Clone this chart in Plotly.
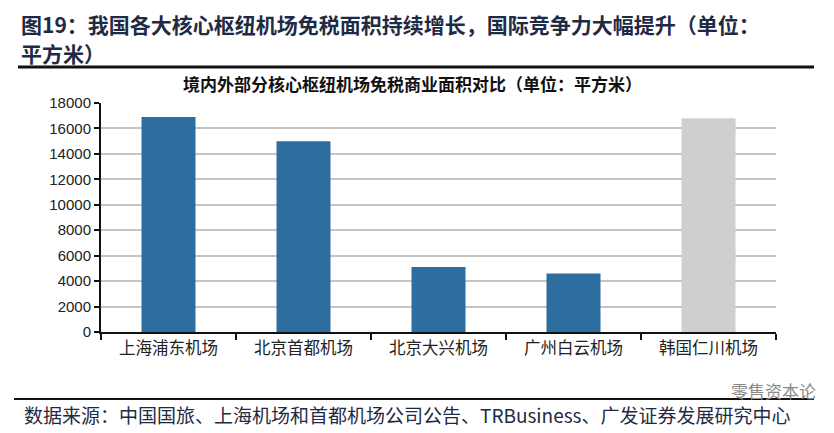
import plotly.graph_objects as go

categories = ["上海浦东机场", "北京首都机场", "北京大兴机场", "广州白云机场", "韩国仁川机场"]
areas = [16900, 15000, 5100, 4600, 16800]
bar_colors = ["#2E6E9E", "#2E6E9E", "#2E6E9E", "#2E6E9E", "#D0CECF"]
y_ticks = [0, 2000, 4000, 6000, 8000, 10000, 12000, 14000, 16000, 18000]
y_tick_labels = [str(v) for v in y_ticks]

title_line1 = "图19：我国各大核心枢纽机场免税面积持续增长，国际竞争力大幅提升（单位："
title_line2 = "平方米）"
chart_title = "境内外部分核心枢纽机场免税商业面积对比（单位：平方米）"
source_text = "数据来源：中国国旅、上海机场和首都机场公司公告、TRBusiness、广发证券发展研究中心"
watermark = "零售资本论"

# page body has an 8px margin; figure is sized so that the plot lands at the right page pixels
W, H = 826, 425
L, R, T, B = 93, 58, 95, 101
PW = W - L - R   # 675
PH = H - T - B   # 229


def px(xp):
    # page x pixel -> paper x
    return (xp - 8 - L) / PW


def py(yp):
    # page y pixel -> paper y
    return 1 - (yp - 8 - T) / PH


fig = go.Figure()
fig.add_trace(go.Bar(
    x=categories, y=areas,
    marker=dict(color=bar_colors, line=dict(width=0)),
    hoverinfo="x+y",
))

fig.update_layout(
    width=W, height=H,
    margin=dict(l=L, r=R, t=T, b=B, autoexpand=False),
    paper_bgcolor="white", plot_bgcolor="white",
    bargap=0.6,
    showlegend=False,
    font=dict(family="Noto Sans CJK SC, Arial", color="#222"),
    xaxis=dict(
        type="category",
        showline=True, linecolor="#111", linewidth=2,
        ticks="outside", tickson="boundaries", ticklen=6, tickwidth=2, tickcolor="#111",
        tickfont=dict(family="Noto Sans CJK SC", size=16.5, color="#222"),
        showgrid=False,
    ),
    yaxis=dict(
        range=[0, 18000], tickvals=y_ticks, ticktext=y_tick_labels,
        showline=True, linecolor="#111", linewidth=2,
        ticks="outside", ticklen=5, tickwidth=2, tickcolor="#111",
        tickfont=dict(family="Arial, Liberation Sans", size=15, color="#222"),
        showgrid=True, gridcolor="#C4C4C4", gridwidth=2,
        zeroline=False,
    ),
)

title_font = dict(family="Noto Sans CJK SC", size=21, color="#1F2A44", weight="bold")
fig.add_annotation(
    text=title_line1, xref="paper", yref="paper",
    x=px(20), y=py(8), xanchor="left", yanchor="top",
    showarrow=False, font=title_font, borderpad=0,
)
fig.add_annotation(
    text=title_line2, xref="paper", yref="paper",
    x=px(20), y=py(37), xanchor="left", yanchor="top",
    showarrow=False, font=title_font, borderpad=0,
)
fig.add_annotation(
    text=chart_title, xref="paper", yref="paper",
    x=px(412), y=py(83), xanchor="center", yanchor="middle",
    showarrow=False,
    font=dict(family="Noto Sans CJK SC", size=17, color="#111", weight="bold"),
)
fig.add_annotation(
    text=source_text, xref="paper", yref="paper",
    x=px(22), y=py(414), xanchor="left", yanchor="middle",
    showarrow=False,
    font=dict(family="Noto Sans CJK SC", size=19, color="#1F2A44"),
)
fig.add_annotation(
    text=watermark, xref="paper", yref="paper",
    x=px(818), y=py(390), xanchor="right", yanchor="middle",
    showarrow=False,
    font=dict(family="Noto Sans CJK SC", size=17, color="#8A8A8A"),
)

fig.add_shape(type="line", xref="paper", yref="paper",
              x0=px(18), x1=px(814), y0=py(67), y1=py(67),
              line=dict(color="#111", width=3))
fig.add_shape(type="line", xref="paper", yref="paper",
              x0=px(14), x1=px(814), y0=py(399), y1=py(399),
              line=dict(color="#111", width=2))

fig.write_html("out.html")
